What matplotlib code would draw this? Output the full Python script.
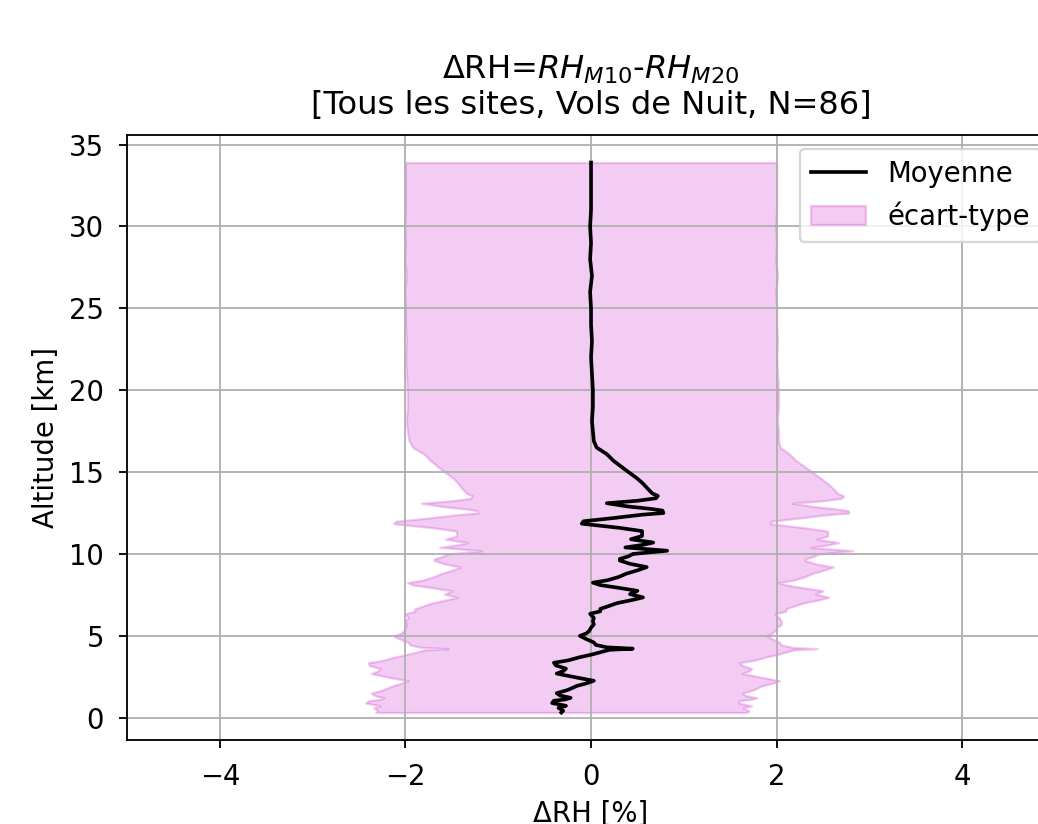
import numpy as np
import matplotlib
matplotlib.use("Agg")
import matplotlib.pyplot as plt

# Altitude levels [km] and mean difference RH_M10 - RH_M20 [%]
altitude = [0.32, 0.43, 0.6, 0.73, 0.9, 1.04, 1.12, 1.22, 1.35, 1.5,
            1.7, 1.95, 2.1, 2.26, 2.45, 2.7, 2.85, 3.0, 3.2, 3.36,
            3.5, 3.7, 3.85, 4.0, 4.15, 4.22, 4.3, 4.45, 4.6, 4.8,
            5.0, 5.15, 5.3, 5.5, 5.7, 5.9, 6.1, 6.35, 6.5, 6.65,
            6.8, 7.0, 7.2, 7.35, 7.55, 7.75, 7.95, 8.1, 8.25, 8.4,
            8.6, 8.8, 9.0, 9.2, 9.4, 9.6, 9.7, 9.85, 10.0, 10.2,
            10.4, 10.55, 10.7, 10.9, 11.1, 11.4, 11.6, 11.85, 12.0, 12.2,
            12.4, 12.5, 12.65, 12.75, 12.9, 13.1, 13.25, 13.4, 13.55, 13.7,
            14.05, 14.3, 14.6, 15.1, 15.7, 16.1, 16.5, 16.9, 17.5, 18.1,
            19.0, 20.0, 21.0, 22.0, 23.0, 24.0, 25.0, 26.0, 27.0, 28.0,
            29.0, 30.0, 31.0, 32.0, 33.0, 33.9]
moyenne = [-0.32, -0.30, -0.35, -0.27, -0.42, -0.40, -0.28, -0.22, -0.33, -0.37,
           -0.25, -0.15, -0.05, 0.03, -0.15, -0.37, -0.30, -0.27, -0.38, -0.40,
           -0.25, -0.12, 0.00, 0.10, 0.20, 0.45, 0.17, 0.05, 0.03, -0.05,
           -0.12, -0.05, -0.02, 0.00, 0.03, 0.02, 0.03, -0.01, 0.10, 0.10,
           0.18, 0.28, 0.45, 0.56, 0.42, 0.50, 0.28, 0.10, 0.02, 0.18,
           0.30, 0.38, 0.50, 0.60, 0.42, 0.31, 0.31, 0.40, 0.45, 0.82,
           0.37, 0.55, 0.67, 0.43, 0.55, 0.55, 0.30, -0.10, -0.08, 0.25,
           0.55, 0.78, 0.77, 0.65, 0.40, 0.17, 0.50, 0.70, 0.72, 0.66,
           0.60, 0.56, 0.50, 0.38, 0.24, 0.17, 0.06, 0.03, 0.02, 0.01,
           0.02, 0.02, 0.01, 0.00, 0.01, 0.00, 0.00, -0.01, 0.01, -0.01,
           0.00, -0.01, 0.00, 0.00, 0.00, 0.00]
ecart_type = [2.00, 2.00, 1.99, 2.00, 2.01, 2.00, 2.00, 2.01, 2.00, 2.00,
              2.00, 1.99, 2.00, 2.00, 2.01, 2.00, 2.00, 2.00, 2.01, 2.00,
              2.00, 2.00, 2.00, 1.99, 1.99, 1.99, 2.00, 2.00, 2.00, 2.01,
              2.01, 2.00, 2.00, 2.00, 2.02, 2.03, 2.00, 1.99, 2.00, 2.00,
              2.00, 2.00, 2.01, 2.00, 2.00, 2.00, 2.00, 2.01, 2.00, 2.00,
              2.00, 2.00, 2.00, 2.01, 2.00, 2.00, 2.00, 2.00, 2.00, 2.00,
              2.00, 2.00, 2.00, 2.00, 2.00, 2.00, 2.00, 2.03, 2.02, 2.00,
              2.00, 2.00, 2.00, 2.00, 2.00, 2.00, 2.00, 2.00, 2.00, 2.00,
              2.00, 1.99, 1.98, 1.98, 1.97, 1.97, 1.98, 1.99, 2.00, 2.00,
              2.00, 2.00, 2.00, 2.00, 2.00, 2.00, 2.00, 2.00, 2.00, 2.00,
              2.00, 2.00, 2.00, 2.00, 2.00, 2.00]

alt = np.array(altitude)
mu = np.array(moyenne)
sd = np.array(ecart_type)

DPI = 165
fig = plt.figure(figsize=(1038 / DPI, 824 / DPI), dpi=DPI)
# axes run past the right edge of the picture, like the cropped original
ax = fig.add_axes([0.1224, 0.1019, 0.894, 0.7342])

ax.plot(mu, alt, color='k', linewidth=1.6, label='Moyenne')
ax.fill_betweenx(alt, mu - sd, mu + sd, color='m', alpha=0.2, label='écart-type')

ax.set_xlim(-5, 5)
ax.grid(True)
ax.tick_params(labelsize=12, pad=6.5)
ax.set_xlabel('ΔRH [%]', fontsize=12)
ax.set_ylabel('Altitude [km]', fontsize=12)
ax.set_title('ΔRH=$RH_{M10}$-$RH_{M20}$\n[Tous les sites, Vols de Nuit, N=86]',
             fontsize=14, pad=9)
ax.legend(loc='upper right', fontsize=12)

fig.savefig('out.png', dpi=DPI)
